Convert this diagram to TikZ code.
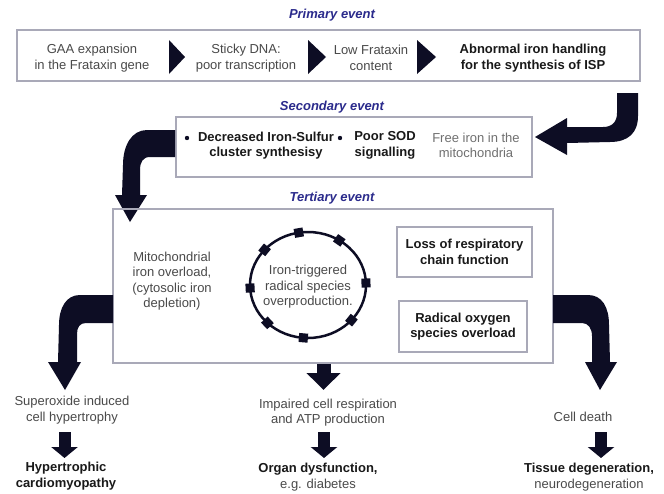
\documentclass[tikz,border=0pt]{standalone}
\usepackage{fontspec}
\setmainfont{Liberation Sans}
\usetikzlibrary{arrows.meta,calc,shapes.geometric}
\definecolor{ink}{HTML}{0D0D24}
\definecolor{ttlc}{HTML}{2B2B8C}
\definecolor{framec}{HTML}{A9A9B8}
\definecolor{txtg}{HTML}{4A4A4A}
\definecolor{txtl}{HTML}{707070}
\begin{document}
\begin{tikzpicture}[x=1pt,y=-1pt,
  every node/.style={font=\fontsize{13}{15.5}\selectfont, inner sep=0pt},
  txt/.style={align=center, text=txtg},
  ltxt/.style={align=center, text=txtl},
  btxt/.style={align=center, text=black!90, font=\fontsize{13}{15.5}\selectfont\bfseries},
  titlest/.style={text=ttlc, font=\fontsize{13}{15.5}\selectfont\bfseries\itshape},
  boxst/.style={draw=framec, line width=1.5pt},
  sq/.style={fill=ink, minimum size=9pt},
  bigarrow/.style={draw=ink, line width=14pt, -{Triangle[width=33pt,length=17pt]}},
  smallarrow/.style={draw=ink, line width=12pt, -{Triangle[width=26pt,length=11pt]}}
]
\useasboundingbox[fill=white] (0,0) rectangle (664,493);

% ---------- primary ----------
\node[titlest] (t1) at (332,15) {Primary event};
\node[boxst, minimum width=623pt, minimum height=51pt] (prim) at (328.5,55.5) {};
\node[txt] (gaa) at (92,58) {GAA expansion\\in the Frataxin gene};
\node[txt] (sticky) at (246,58) {Sticky DNA:\\poor transcription};
\node[txt] (low) at (371,58) {Low Frataxin\\content};
\node[btxt] (abn) at (533,58) {Abnormal iron handling\\for the synthesis of ISP};
\fill[ink] (169,40) -- (185,57) -- (169,74) -- cycle;
\fill[ink] (308,40) -- (326,57) -- (308,74) -- cycle;
\fill[ink] (417,40) -- (436,57) -- (417,74) -- cycle;

% ---------- secondary ----------
\node[titlest] (t2) at (332,107) {Secondary event};
\node[boxst, minimum width=356pt, minimum height=60pt] (sec) at (354,147) {};
\node[btxt] (dec) at (266,145.5) {Decreased Iron-Sulfur\\cluster synthesisy};
\node[btxt] (sod) at (385,145.5) {Poor SOD\\signalling};
\node[ltxt] (free) at (476,145.5) {Free iron in the\\mitochondria};
\fill[ink] (187,138) circle[radius=2.2pt];
\fill[ink] (340,138) circle[radius=2.2pt];

% primary -> secondary
\fill[ink] (617,93) -- (638,93) -- (638,116) .. controls (638,133) and (628,142) .. (610,142)
  -- (567,143) -- (567,155) -- (535,137) -- (567,118) -- (567,127) -- (603,127)
  .. controls (612,127) and (617,122) .. (617,113) -- cycle;

% secondary -> tertiary
\fill[ink] (175,130) -- (147,130) .. controls (132,130) and (123,145) .. (123,165)
  -- (122,195) -- (115,195) -- (130,222) -- (147,195) -- (140,195) -- (140,170)
  .. controls (140,162) and (143,157) .. (150,157) -- (175,157) -- cycle;

% ---------- tertiary ----------
\node[titlest] (t3) at (332,198) {Tertiary event};
\node[boxst, minimum width=440pt, minimum height=154pt] (tert) at (333,286) {};
\node[txt] (mito) at (172,281) {Mitochondrial\\iron overload,\\(cytosolic iron\\depletion)};
\node[draw=ink, line width=2.5pt, ellipse, minimum width=116pt, minimum height=106pt, outer sep=0pt] (ring) at (308,285) {};
\foreach \a [count=\i] in {100,55,2,-39,-95,223,183,141}
  \node[sq, rotate=\a] (sq\i) at (ring.\a) {};
\node[txt] (rtxt) at (308,287) {Iron-triggered\\radical species\\overproduction.};
\node[boxst, btxt, minimum width=135pt, minimum height=50pt] (loss) at (464.5,252) {Loss of respiratory\\chain function};
\node[boxst, btxt, minimum width=128pt, minimum height=51pt] (ros) at (463,326.5) {Radical oxygen\\species overload};

% tertiary -> left
\fill[ink] (113,295) -- (80,295) .. controls (66,295) and (59,308) .. (59,325)
  -- (58,362) -- (48,362) -- (65,390) -- (81,362) -- (77,362) -- (77,334)
  .. controls (77,327) and (80,323) .. (86,323) -- (113,323) -- cycle;
% tertiary -> right
\fill[ink] (553,295) -- (588,295) .. controls (602,295) and (609,307) .. (609,325)
  -- (610,362) -- (617,362) -- (600,390) -- (585,362) -- (592,362) -- (592,336)
  .. controls (592,328) and (588,323) .. (582,323) -- (553,323) -- cycle;
% tertiary -> middle
\coordinate (cm) at (323.5,390);
\draw[bigarrow] (tert.south -| cm) -- (cm);

% ---------- bottom ----------
\node[txt] (sup) at (72,410) {Superoxide induced\\cell hypertrophy};
\node[btxt] (hyp) at (66,476) {Hypertrophic\\cardiomyopathy};
\node[txt] (imp) at (328,412.5) {Impaired cell respiration\\and ATP production};
\node[align=center] (org) at (318,477) {\textbf{\color{black!90}Organ dysfunction,}\\\color{txtg}e.g. diabetes};
\node[txt] (death) at (583,417) {Cell death};
\node[align=center] (tis) at (589,477) {\textbf{\color{black!90}Tissue degeneration,}\\\color{txtg}neurodegeneration};

\coordinate (s1a) at (64.5,432); \coordinate (s1b) at (64.5,458);
\coordinate (s2a) at (324,432);  \coordinate (s2b) at (324,458);
\coordinate (s3a) at (601,432);  \coordinate (s3b) at (601,458);
\draw[smallarrow] (s1a) -- (s1b);
\draw[smallarrow] (s2a) -- (s2b);
\draw[smallarrow] (s3a) -- (s3b);
\end{tikzpicture}
\end{document}
